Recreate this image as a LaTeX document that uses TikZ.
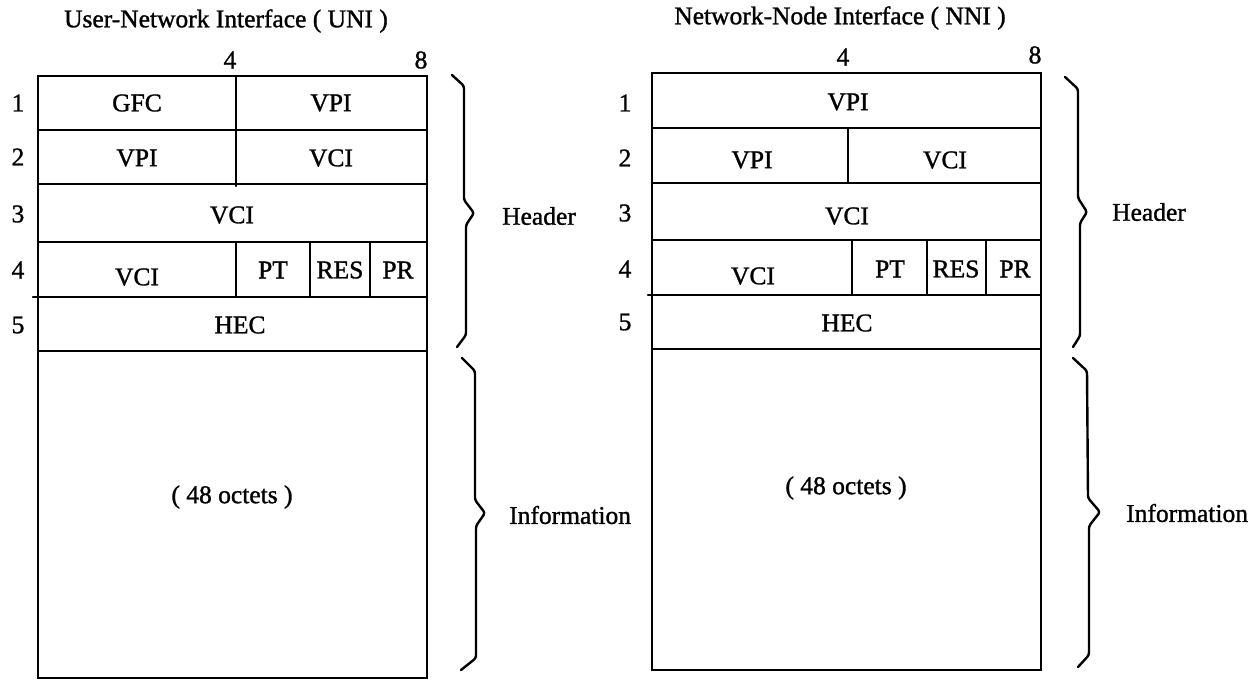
\documentclass[tikz,border=0pt]{standalone}
\usepackage{fontspec}
\setmainfont{Liberation Serif}[FakeBold=1.2]
\begin{document}
\begin{tikzpicture}[x=1pt,y=-1pt,
  frame/.style={line width=2.2pt, line cap=round},
  brace/.style={line width=2.4pt, line join=round, line cap=round, rounded corners=2.5pt},
  lbl/.style={font=\fontsize{25.5}{28}\selectfont, inner sep=0pt},
  rownum/.style={lbl},
  colnum/.style={lbl}]
\useasboundingbox (0,0) rectangle (1255,685);

% ---------------- User-Network Interface (UNI) ----------------
\node[lbl] (unititle) at (226,21) {User-Network Interface ( UNI )};
\node[colnum] (uc4) at (230,60) {4};
\node[colnum] (uc8) at (421,60) {8};

\coordinate (ua) at (38,76);
\coordinate (ub) at (427,678);
\draw[frame] (ua) rectangle (ub);
\draw[frame] (38,130) -- (427,130);
\draw[frame] (38,184) -- (427,184);
\draw[frame] (38,242) -- (427,242);
\draw[frame] (33,297) -- (427,297);
\draw[frame] (38,351) -- (427,351);
\draw[frame] (236,76) -- (236,186);
\draw[frame] (236,242) -- (236,297);
\draw[frame] (310,242) -- (310,297);
\draw[frame] (370,242) -- (370,297);

\node[rownum] (ur1) at (18,103) {1};
\node[rownum] (ur2) at (18,157) {2};
\node[rownum] (ur3) at (18,214) {3};
\node[rownum] (ur4) at (18,270) {4};
\node[rownum] (ur5) at (18,325) {5};

\node[lbl] (ugfc)  at (137,103) {GFC};
\node[lbl] (uvpi1) at (331,103) {VPI};
\node[lbl] (uvpi2) at (137,158) {VPI};
\node[lbl] (uvci2) at (331,158) {VCI};
\node[lbl] (uvci3) at (232,215) {VCI};
\node[lbl] (uvci4) at (137,277) {VCI};
\node[lbl] (upt)   at (273,270) {PT};
\node[lbl] (ures)  at (340,270) {RES};
\node[lbl] (upr)   at (398,270) {PR};
\node[lbl] (uhec)  at (240,325) {HEC};
\node[lbl] (uinfo) at (232,497) {( 48 octets )};

% braces
\draw[brace] (452,75) -- (464,86) -- (464,200) -- (474,213) -- (466,225) -- (466,335) -- (457,347);
\draw[brace] (462,358) -- (475,371) -- (475,500) -- (485,513) -- (476,526) -- (476,658) -- (461,670);
\node[lbl, anchor=west] (uhead) at (502,216) {Header};
\node[lbl, anchor=west] (uinf)  at (509,515) {Information};

% ---------------- Network-Node Interface (NNI) ----------------
\node[lbl] (nnititle) at (840,18) {Network-Node Interface ( NNI )};
\node[colnum] (nc4) at (843,57) {4};
\node[colnum] (nc8) at (1035,55) {8};

\coordinate (na) at (652,73);
\coordinate (nb) at (1041,670);
\draw[frame] (na) rectangle (nb);
\draw[frame] (652,128) -- (1041,128);
\draw[frame] (652,183) -- (1041,183);
\draw[frame] (652,240) -- (1041,240);
\draw[frame] (648,295) -- (1041,295);
\draw[frame] (652,349) -- (1041,349);
\draw[frame] (848,128) -- (848,183);
\draw[frame] (852,240) -- (852,295);
\draw[frame] (927,240) -- (927,295);
\draw[frame] (986,240) -- (986,295);

\node[rownum] (nr1) at (625,103) {1};
\node[rownum] (nr2) at (625,158) {2};
\node[rownum] (nr3) at (625,213) {3};
\node[rownum] (nr4) at (625,269) {4};
\node[rownum] (nr5) at (625,322) {5};

\node[lbl] (nvpi1) at (848,102) {VPI};
\node[lbl] (nvpi2) at (752,160) {VPI};
\node[lbl] (nvci2) at (945,160) {VCI};
\node[lbl] (nvci3) at (847,216) {VCI};
\node[lbl] (nvci4) at (753,276) {VCI};
\node[lbl] (npt)   at (890,269) {PT};
\node[lbl] (nres)  at (956,269) {RES};
\node[lbl] (npr)   at (1015,269) {PR};
\node[lbl] (nhec)  at (847,323) {HEC};
\node[lbl] (ninfo) at (846,488) {( 48 octets )};

\draw[brace] (1065,77) -- (1078,89) -- (1078,198) -- (1087,212) -- (1080,223) -- (1080,336) -- (1073,347);
\draw[brace] (1073,358) -- (1087,371) -- (1088,498) -- (1100,512) -- (1089,526) -- (1089,655) -- (1078,667);
\node[lbl, anchor=west] (nhead) at (1112,212) {Header};
\node[lbl, anchor=west] (ninf)  at (1126,513) {Information};
\end{tikzpicture}
\end{document}
